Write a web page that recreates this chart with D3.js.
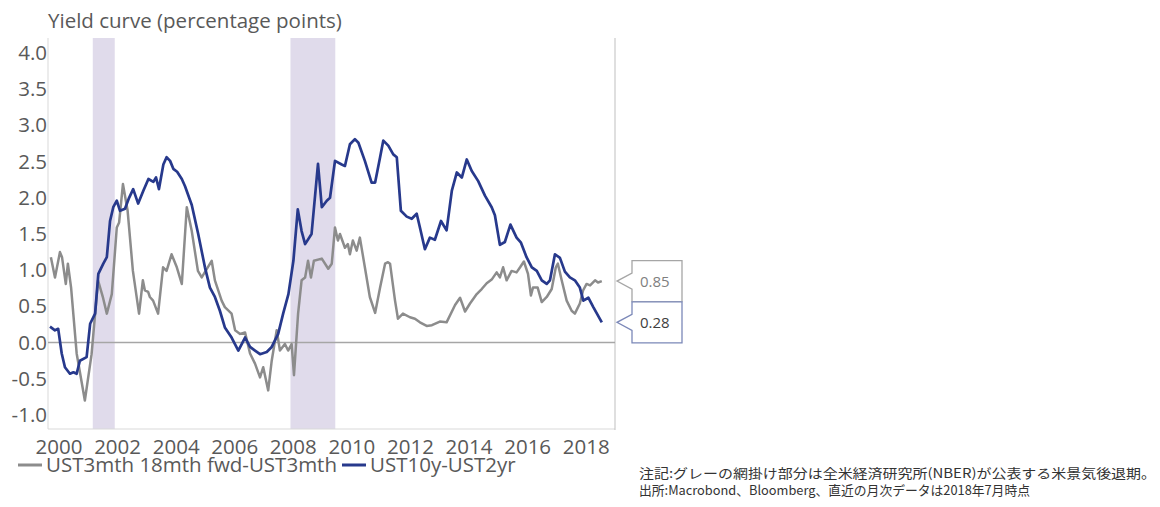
<!DOCTYPE html>
<html>
<head>
<meta charset="utf-8">
<script src="https://cdn.jsdelivr.net/npm/d3@7"></script>
<style>
  body { margin: 0; background: #fff; }
  text { font-family: "Open Sans", sans-serif; }
</style>
</head>
<body>
<script>
// values (decimal year, percentage points)
const grayYears = [1999.74,1999.88,2000.05,2000.12,2000.25,2000.32,2000.43,2000.62,2000.90,2001.13,2001.35,2001.52,2001.65,2001.82,2001.99,2002.07,2002.20,2002.36,2002.54,2002.75,2002.88,2002.95,2003.06,2003.12,2003.23,2003.40,2003.57,2003.69,2003.86,2004.04,2004.21,2004.38,2004.55,2004.76,2004.89,2005.23,2005.34,2005.57,2005.68,2005.91,2006.03,2006.20,2006.37,2006.54,2006.71,2006.88,2006.99,2007.16,2007.28,2007.45,2007.56,2007.73,2007.84,2007.96,2008.04,2008.18,2008.30,2008.42,2008.52,2008.62,2008.72,2008.99,2009.21,2009.33,2009.44,2009.54,2009.61,2009.78,2009.88,2009.95,2010.05,2010.18,2010.29,2010.46,2010.63,2010.81,2010.98,2011.15,2011.25,2011.32,2011.49,2011.59,2011.76,2012.00,2012.17,2012.34,2012.57,2012.75,2013.02,2013.25,2013.54,2013.71,2013.88,2014.05,2014.28,2014.45,2014.62,2014.79,2014.96,2015.07,2015.18,2015.30,2015.47,2015.64,2015.76,2015.89,2016.03,2016.13,2016.20,2016.36,2016.50,2016.67,2016.84,2016.98,2017.05,2017.18,2017.35,2017.52,2017.63,2017.80,2017.91,2018.03,2018.15,2018.32,2018.42,2018.55];
const grayValues = [1.18,0.90,1.25,1.18,0.81,1.09,0.76,-0.15,-0.80,-0.16,0.86,0.62,0.40,0.67,1.59,1.66,2.19,1.82,0.99,0.40,0.86,0.72,0.70,0.63,0.58,0.40,1.04,0.99,1.22,1.04,0.81,1.87,1.54,0.99,0.90,1.13,0.86,0.58,0.49,0.40,0.17,0.12,0.14,-0.15,-0.29,-0.48,-0.34,-0.66,-0.25,0.17,-0.11,-0.02,-0.11,-0.02,-0.45,0.40,0.86,0.90,1.13,0.90,1.13,1.16,1.02,1.09,1.59,1.41,1.50,1.31,1.36,1.22,1.41,1.27,1.45,1.04,0.63,0.41,0.76,1.09,1.11,1.09,0.58,0.33,0.40,0.35,0.33,0.28,0.23,0.24,0.29,0.28,0.52,0.62,0.43,0.54,0.67,0.74,0.82,0.87,0.97,0.90,1.04,0.86,0.99,0.97,1.04,1.12,0.95,0.65,0.76,0.76,0.56,0.63,0.74,1.04,1.09,0.86,0.58,0.44,0.40,0.54,0.72,0.81,0.79,0.86,0.83,0.85];

const blueYears = [1999.71,1999.88,1999.99,2000.11,2000.22,2000.39,2000.51,2000.62,2000.73,2000.96,2001.08,2001.25,2001.36,2001.53,2001.65,2001.76,2001.87,2001.99,2002.10,2002.27,2002.41,2002.55,2002.72,2002.90,2003.07,2003.24,2003.33,2003.43,2003.58,2003.69,2003.81,2003.92,2004.05,2004.21,2004.32,2004.55,2004.77,2005.00,2005.17,2005.34,2005.51,2005.68,2005.91,2006.14,2006.37,2006.54,2006.71,2006.88,2007.11,2007.28,2007.50,2007.67,2007.85,2008.02,2008.17,2008.30,2008.42,2008.64,2008.86,2008.99,2009.16,2009.27,2009.44,2009.67,2009.78,2009.95,2010.12,2010.24,2010.46,2010.69,2010.81,2010.98,2011.09,2011.26,2011.43,2011.55,2011.69,2011.89,2012.06,2012.23,2012.34,2012.51,2012.68,2012.85,2013.06,2013.25,2013.43,2013.60,2013.77,2013.94,2014.11,2014.33,2014.56,2014.79,2014.90,2015.07,2015.24,2015.43,2015.64,2015.79,2015.98,2016.16,2016.33,2016.50,2016.67,2016.78,2016.95,2017.12,2017.29,2017.46,2017.63,2017.80,2017.92,2018.09,2018.26,2018.55];
const blueValues = [0.22,0.17,0.19,-0.15,-0.34,-0.43,-0.41,-0.43,-0.25,-0.20,0.26,0.40,0.95,1.09,1.18,1.68,1.87,1.96,1.82,1.85,2.00,2.12,1.92,2.10,2.26,2.22,2.28,2.12,2.46,2.56,2.51,2.40,2.36,2.26,2.16,1.90,1.50,1.04,0.76,0.63,0.44,0.21,0.07,-0.11,0.07,-0.06,-0.11,-0.16,-0.13,-0.06,0.12,0.40,0.67,1.13,1.84,1.54,1.36,1.50,2.47,1.87,1.96,2.00,2.51,2.46,2.44,2.74,2.81,2.76,2.51,2.21,2.21,2.56,2.79,2.72,2.60,2.56,1.82,1.74,1.71,1.78,1.59,1.29,1.45,1.42,1.68,1.55,2.10,2.35,2.28,2.53,2.37,2.23,2.03,1.87,1.76,1.35,1.39,1.63,1.45,1.38,1.18,1.04,0.99,0.86,0.81,0.86,1.22,1.17,0.98,0.90,0.86,0.76,0.58,0.62,0.49,0.28];

// NBER recessions
const recessionStart = [2001.17, 2007.92];
const recessionEnd = [2001.92, 2009.45];

const xTicks = [2000, 2002, 2004, 2006, 2008, 2010, 2012, 2014, 2016, 2018];
const yTicks = [-1, -0.5, 0, 0.5, 1, 1.5, 2, 2.5, 3, 3.5, 4];

const seriesNames = ["UST3mth 18mth fwd-UST3mth", "UST10y-UST2yr"];
const title = "Yield curve (percentage points)";
const notes = [
  "注記:グレーの網掛け部分は全米経済研究所(NBER)が公表する米景気後退期。",
  "出所:Macrobond、Bloomberg、直近の月次データは2018年7月時点"
];

const width = 1160, height = 507;
const plotLeft = 48, plotRight = 615, plotTop = 38, plotBottom = 429;
const grayColor = "#8c8c8c", blueColor = "#27398c";
const fontSize = "20.5px";

const x = d3.scaleLinear([2000, 2018], [58.5, 585.7]);
const y = d3.scaleLinear([-1, 4], [415, 53]);

const svg = d3.select("body").append("svg")
  .attr("width", width)
  .attr("height", height);

// recession shading
svg.selectAll("rect.rec")
  .data(recessionStart)
  .enter()
  .append("rect")
  .attr("class", "rec")
  .attr("x", d => x(d))
  .attr("width", (d, i) => x(recessionEnd[i]) - x(d))
  .attr("y", plotTop)
  .attr("height", plotBottom - plotTop)
  .attr("fill", "#e0dbeb");

// frame lines
svg.append("line").attr("x1", plotLeft).attr("x2", plotLeft).attr("y1", plotTop).attr("y2", plotBottom)
  .attr("stroke", "#d9d9d9").attr("stroke-width", 1);
svg.append("line").attr("x1", plotLeft).attr("x2", plotRight).attr("y1", plotBottom).attr("y2", plotBottom)
  .attr("stroke", "#d9d9d9").attr("stroke-width", 1);
svg.append("line").attr("x1", plotRight).attr("x2", plotRight).attr("y1", plotTop).attr("y2", plotBottom + 1)
  .attr("stroke", "#bfbfbf").attr("stroke-width", 1);
svg.append("line").attr("x1", plotLeft).attr("x2", plotRight).attr("y1", y(0)).attr("y2", y(0))
  .attr("stroke", "#a6a6a6").attr("stroke-width", 1.5);

// axes
const yAxis = svg.append("g")
  .attr("transform", `translate(${plotLeft - 1},0)`)
  .call(d3.axisLeft(y).tickValues(yTicks).tickSize(0).tickPadding(0).tickFormat(d => d.toFixed(1)));
yAxis.select(".domain").remove();
yAxis.selectAll("text").attr("fill", "#595959").style("font-size", fontSize).style("font-family", "Open Sans");

const xAxis = svg.append("g")
  .attr("transform", `translate(0,${plotBottom})`)
  .call(d3.axisBottom(x).tickValues(xTicks).tickSize(0).tickPadding(10).tickFormat(d => d));
xAxis.select(".domain").remove();
xAxis.selectAll("text").attr("fill", "#595959").style("font-size", fontSize).style("font-family", "Open Sans");

// title
svg.append("text")
  .text(title)
  .attr("x", plotLeft)
  .attr("y", 28)
  .attr("fill", "#595959")
  .style("font-size", fontSize);

// lines
const line = d3.line().x(d => x(d[0])).y(d => y(d[1]));
const grayData = grayYears.map((d, i) => [d, grayValues[i]]);
const blueData = blueYears.map((d, i) => [d, blueValues[i]]);

svg.append("path").datum(grayData)
  .attr("d", line).attr("fill", "none")
  .attr("stroke", grayColor).attr("stroke-width", 2.5).attr("stroke-linejoin", "round");
svg.append("path").datum(blueData)
  .attr("d", line).attr("fill", "none")
  .attr("stroke", blueColor).attr("stroke-width", 2.7).attr("stroke-linejoin", "round");

// last value callouts
function callout(value, stroke, textColor) {
  const ty = y(value);
  const bx = 632, bw = 50, bh = 41;
  const t = ty - bh / 2, b = ty + bh / 2;
  svg.append("path")
    .attr("d", `M${bx},${t}H${bx + bw}V${b}H${bx}V${ty + 8}L${plotRight + 2},${ty}L${bx},${ty - 8}Z`)
    .attr("fill", "#fff")
    .attr("stroke", stroke)
    .attr("stroke-width", 1.3);
  svg.append("text")
    .text(value.toFixed(2))
    .attr("x", bx + 8)
    .attr("y", ty + 6)
    .attr("fill", textColor)
    .style("font-size", "15px");
}
callout(grayValues[grayValues.length - 1], "#a6a6a6", "#7f7f7f");
callout(blueValues[blueValues.length - 1], "#7b88b8", "#404040");

// legend
const legendY = 465;
const legend = svg.append("g");
let lx = 18;
[grayColor, blueColor].forEach((c, i) => {
  legend.append("line").attr("x1", lx).attr("x2", lx + 24).attr("y1", legendY).attr("y2", legendY)
    .attr("stroke", c).attr("stroke-width", 3);
  const t = legend.append("text")
    .text(seriesNames[i])
    .attr("x", lx + 28)
    .attr("y", legendY + 7)
    .attr("fill", "#595959")
    .style("font-size", fontSize);
  lx = lx + 28 + t.node().getComputedTextLength() + 5;
});

// notes
svg.selectAll("text.note")
  .data(notes)
  .enter()
  .append("text")
  .attr("class", "note")
  .text(d => d)
  .attr("x", 639)
  .attr("y", (d, i) => 478 + i * 17)
  .attr("fill", "#333")
  .style("font-family", "'Noto Sans CJK JP', sans-serif")
  .style("font-size", "13px")
  .attr("textLength", (d, i) => i === 0 ? 517 : 391)
  .attr("lengthAdjust", "spacingAndGlyphs");
</script>
</body>
</html>
